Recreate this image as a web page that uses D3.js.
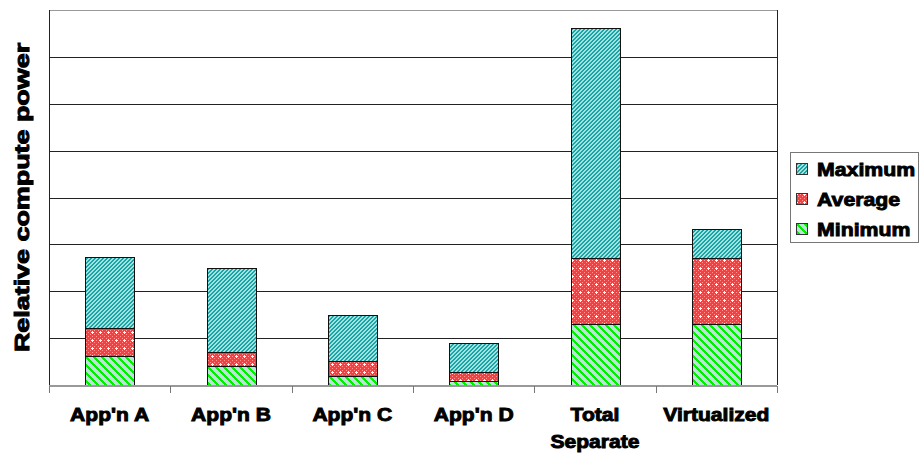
<!DOCTYPE html>
<html>
<head>
<meta charset="utf-8">
<script src="https://cdn.jsdelivr.net/npm/d3@7"></script>
<style>
  body { margin: 0; background: #fff; }
  text { font-family: "Liberation Sans", Arial, sans-serif; font-weight: bold; fill: #000; stroke: #000; stroke-width: 0.9px; paint-order: stroke; }
</style>
</head>
<body>
<div id="chart"></div>
<script>
// Chart values (levels are cumulative heights, in grid units)
const categories = ["App'n A", "App'n B", "App'n C", "App'n D", "Total\nSeparate", "Virtualized"];
const minimum = [0.61, 0.41, 0.19, 0.09, 1.30, 1.30];
const average = [1.22, 0.70, 0.51, 0.28, 2.71, 2.71];
const maximum = [2.73, 2.50, 1.49, 0.90, 7.62, 3.33];
const seriesNames = ["Maximum", "Average", "Minimum"];
const yTicks = [0, 1, 2, 3, 4, 5, 6, 7, 8];

const width = 920, height = 455;
const margin = { top: 10, right: 143, bottom: 70, left: 49 };

const svg = d3.select("#chart").append("svg")
    .attr("width", width)
    .attr("height", height)
    .attr("shape-rendering", "crispEdges");

// pixel patterns for fills
const defs = svg.append("defs");

function pixelPattern(id, size, bg, fg, on) {
    const p = defs.append("pattern")
        .attr("id", id)
        .attr("patternUnits", "userSpaceOnUse")
        .attr("width", size).attr("height", size);
    p.append("rect").attr("width", size).attr("height", size).attr("fill", bg);
    for (let i = 0; i < size; i++) {
        for (let j = 0; j < size; j++) {
            const c = on(i, j);
            if (c) p.append("rect").attr("x", i).attr("y", j).attr("width", 1).attr("height", 1).attr("fill", c === true ? fg : c);
        }
    }
}

// "/" fine teal stripes
pixelPattern("pat-max", 4, "#a4e2e2", "#17a5a5", (i, j) => (i + j) % 4 < 2);
// "\" wide green stripes
pixelPattern("pat-min", 8, "#c0e0e0", "#00f000", (i, j) => ((i - j) % 8 + 8) % 8 < 3);
// red with white crosses
pixelPattern("pat-avg", 8, "#ff3c3c", "#ffffff", (i, j) => {
    if ((i === 4 && j >= 3 && j <= 5) || (j === 4 && i >= 3 && i <= 5)) return "#ffffff";
    if ((i % 4 === 0 && j % 4 === 0) || (i % 4 === 2 && j % 4 === 2)) return "#ff9a9a";
    return false;
});

const fills = { Maximum: "url(#pat-max)", Average: "url(#pat-avg)", Minimum: "url(#pat-min)" };

const x = d3.scaleBand()
    .domain(categories)
    .range([margin.left, width - margin.right])
    .paddingInner(0.6)
    .paddingOuter(0.3);

const y = d3.scaleLinear()
    .domain([0, 8])
    .range([height - margin.bottom, margin.top]);

// gridlines
svg.append("g")
    .selectAll("line")
    .data(yTicks.slice(1, -1))
    .enter().append("line")
    .attr("x1", margin.left).attr("x2", width - margin.right)
    .attr("y1", d => Math.round(y(d)) + 0.5)
    .attr("y2", d => Math.round(y(d)) + 0.5)
    .attr("stroke", "#222");

// top and right frame
svg.append("line")
    .attr("x1", margin.left).attr("x2", width - margin.right)
    .attr("y1", y(8) + 0.5).attr("y2", y(8) + 0.5)
    .attr("stroke", "#999");
svg.append("line")
    .attr("x1", width - margin.right + 0.5).attr("x2", width - margin.right + 0.5)
    .attr("y1", y(8)).attr("y2", y(0))
    .attr("stroke", "#222");

// stacked segments
const segs = [];
categories.forEach((c, i) => {
    segs.push({ cat: c, name: "Minimum", lo: 0, hi: minimum[i] });
    segs.push({ cat: c, name: "Average", lo: minimum[i], hi: average[i] });
    segs.push({ cat: c, name: "Maximum", lo: average[i], hi: maximum[i] });
});

svg.append("g")
    .selectAll("rect")
    .data(segs)
    .enter().append("rect")
    .attr("x", d => Math.round(x(d.cat)) + 0.5)
    .attr("y", d => Math.round(y(d.hi)) + 0.5)
    .attr("width", Math.round(x.bandwidth()))
    .attr("height", d => Math.round(y(d.lo)) - Math.round(y(d.hi)))
    .attr("fill", d => fills[d.name])
    .attr("stroke", "#111")
    .attr("stroke-width", 1);

// left axis
svg.append("line")
    .attr("x1", margin.left + 0.5).attr("x2", margin.left + 0.5)
    .attr("y1", y(8)).attr("y2", y(0) + 7)
    .attr("stroke", "#222");

// bottom axis with ticks between categories
const xAxis = svg.append("g")
    .attr("transform", `translate(0,${Math.round(y(0)) + 0.5})`);
xAxis.append("line")
    .attr("x1", margin.left).attr("x2", width - margin.right)
    .attr("stroke", "#999").attr("stroke-width", 2);
const bounds = d3.range(categories.length + 1).map(i => margin.left + i * x.step());
xAxis.selectAll(".tick")
    .data(bounds)
    .enter().append("line")
    .attr("x1", d => Math.round(d) + 0.5).attr("x2", d => Math.round(d) + 0.5)
    .attr("y1", 0).attr("y2", 7)
    .attr("stroke", "#777");

// stretch text like the original
function stretch(sel, k) {
    sel.each(function () {
        const len = this.getComputedTextLength();
        d3.select(this).attr("textLength", len * k).attr("lengthAdjust", "spacingAndGlyphs");
    });
}

// category labels, one text per line
const labelLines = [];
categories.forEach(c => c.split("\n").forEach((line, j) => labelLines.push({ cat: c, line, j })));
const labels = svg.append("g")
    .selectAll("text")
    .data(labelLines)
    .enter().append("text")
    .attr("text-anchor", "middle")
    .attr("shape-rendering", "auto")
    .style("font-size", "18px")
    .attr("x", d => x(d.cat) + x.bandwidth() / 2)
    .attr("y", d => 421 + d.j * 27)
    .text(d => d.line);
stretch(labels, 1.17);

// y axis title
const yTitle = svg.append("text")
    .attr("transform", `translate(29,${(y(0) + y(8)) / 2}) rotate(-90)`)
    .attr("text-anchor", "middle")
    .style("font-size", "21px")
    .style("stroke-width", "1px")
    .text("Relative compute power");
stretch(yTitle, 1.28);

// legend
const legend = svg.append("g");
legend.append("rect")
    .attr("x", 790.5).attr("y", 152.5)
    .attr("width", 128).attr("height", 90)
    .attr("fill", "#fff")
    .attr("stroke", "#777");
const items = legend.selectAll(".item")
    .data(seriesNames)
    .enter().append("g")
    .attr("transform", (d, i) => `translate(0,${i * 30})`);
items.append("rect")
    .attr("x", 796.5).attr("y", 163.5)
    .attr("width", 11).attr("height", 11)
    .attr("fill", d => fills[d])
    .attr("stroke", "#333");
const legText = items.append("text")
    .attr("x", 817).attr("y", 176)
    .style("font-size", "19px")
    .text(d => d);
stretch(legText, 1.12);
</script>
</body>
</html>
